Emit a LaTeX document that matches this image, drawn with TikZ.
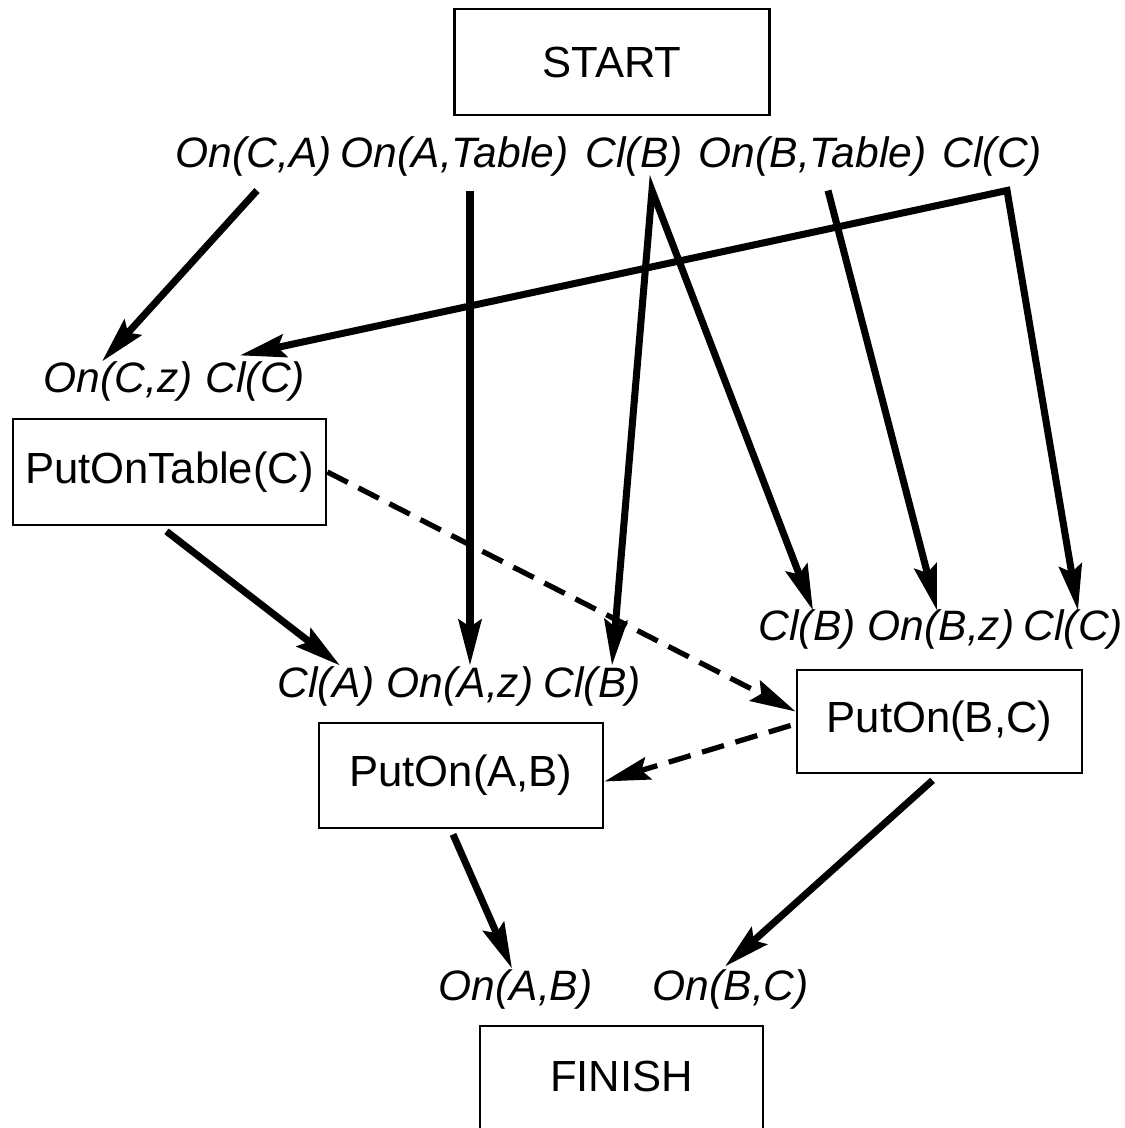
\documentclass[tikz,border=0pt]{standalone}
\usepackage{fontspec}
\setmainfont{Liberation Sans}
\usepackage{tikz}
\usetikzlibrary{arrows.meta,calc,positioning}

\begin{document}
\begin{tikzpicture}[x=0.01cm, y=-0.01cm, font={\fontsize{12.4}{14}\selectfont},
    >={Stealth[length=13pt,width=6.5pt,inset=2pt]},
    act/.style={draw, line width=0.75pt, inner sep=0pt},
    lit/.style={font={\fontsize{12.1}{14}\selectfont\itshape}, inner sep=0pt, anchor=base west},
    flow/.style={line width=2pt, line join=miter},
    dep/.style={->, line width=1.5pt, dash pattern=on 6.5pt off 3.4pt}]
    \useasboundingbox (0,0) rectangle (1124,1128);

    % steps
    \node[act, minimum width=3.15cm, minimum height=1.06cm] (start) at (612,62) {START};
    \node[act, minimum width=3.13cm, minimum height=1.06cm] (putT) at (169.5,472) {PutOnTable(C)};
    \node[act, minimum width=2.85cm, minimum height=1.03cm] (putBC) at (939.5,721.5) {PutOn(B,C)};
    \node[act, minimum width=2.84cm, minimum height=1.05cm] (putAB) at (461,775.5) {PutOn(A,B)};
    \node[act, minimum width=2.83cm, minimum height=1.20cm, text depth=0.2cm] (finish) at (621.5,1086) {FINISH};

    % conditions
    \node[lit] (onCA) at (175,168) {On(C,A)};
    \node[lit] (onAT) at (340,168) {On(A,Table)};
    \node[lit] (clB0) at (585,168) {Cl(B)};
    \node[lit] (onBT) at (698,168) {On(B,Table)};
    \node[lit] (clC0) at (942,168) {Cl(C)};
    \node[lit] (onCz) at (43,393) {On(C,z)};
    \node[lit] (clC1) at (205,393) {Cl(C)};
    \node[lit] (clA) at (277,697) {Cl(A)};
    \node[lit] (onAz) at (386,697) {On(A,z)};
    \node[lit] (clB2) at (543,697) {Cl(B)};
    \node[lit] (clB3) at (758,640) {Cl(B)};
    \node[lit] (onBz) at (867,640) {On(B,z)};
    \node[lit] (clC3) at (1023,640) {Cl(C)};
    \node[lit] (onAB) at (438,1000) {On(A,B)};
    \node[lit] (onBC) at (652,1000) {On(B,C)};

    % causal links
    \draw[flow,->] ($(onCA.south west)+(82,13)$) -- ($(onCz.north west)+(59,0)$);
    \draw[flow,<->] ($(clC1.north west)+(35,-6)$) -- ($(clC0.south west)+(65,13)$) -- ($(clC3.north west)+(55,2)$);
    \draw[flow,->] ($(onAT.south west)+(130,13)$) -- ($(onAz.north west)+(84,0)$);
    \draw[flow,<->] ($(clB2.north west)+(69,0)$) -- ($(clB0.south west)+(67,13)$) -- ($(clB3.north west)+(55,2)$);
    \draw[flow,->] ($(onBT.south west)+(130,13)$) -- ($(onBz.north west)+(70,2)$);
    \draw[flow,->] ($(putT.south)+(-3,5)$) -- ($(clA.north west)+(63,0)$);
    \draw[flow,->] ($(putAB.south)+(-8,5)$) -- ($(onAB.north west)+(74,0)$);
    \draw[flow,->] ($(putBC.south)+(-7,6)$) -- ($(onBC.north west)+(73,-2)$);

    % ordering
    \draw[dep] (putT.east) -- ($(putBC.west)+(0,-10)$);
    \draw[dep] ($(putBC.west)+(-5,4)$) -- ($(putAB.east)+(0,6)$);
\end{tikzpicture}
\end{document}
